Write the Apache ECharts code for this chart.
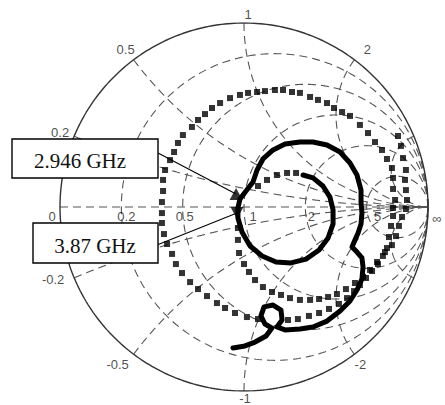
<!DOCTYPE html>
<html>
<head>
<meta charset="utf-8">
<script src="https://cdn.jsdelivr.net/npm/echarts@6/dist/echarts.min.js"></script>
<style>
  html, body { margin: 0; padding: 0; background: #fff; }
  #chart { width: 445px; height: 405px; }
</style>
</head>
<body>
<div id="chart"></div>
<script>
// Smith chart grid values (normalised impedance)
const resistanceCircles = [0.2, 0.5, 1, 2, 5];
const reactanceArcs = [0.2, 0.5, 1, 2, 5, -0.2, -0.5, -1, -2, -5];

// Tick labels: resistance along the real axis, reactance around the rim
const resistanceTicks = [0, 0.2, 0.5, 1, 2, 5];
const reactanceTicks = [1, 0.5, 2, 0.2, -0.2, -0.5, -2, -1];

// Measured reflection coefficient traces, [Re(Γ), Im(Γ)]
const thickTrace = [
  [-0.060, -0.766], [0.005, -0.755], [0.060, -0.734], [0.120, -0.701], [0.152, -0.658],
  [0.114, -0.636], [0.092, -0.592], [0.109, -0.543], [0.158, -0.533], [0.201, -0.560],
  [0.207, -0.614], [0.179, -0.652], [0.223, -0.668], [0.304, -0.663], [0.375, -0.652],
  [0.451, -0.620], [0.522, -0.565], [0.576, -0.511], [0.614, -0.451], [0.641, -0.391],
  [0.647, -0.326], [0.641, -0.277], [0.614, -0.245], [0.587, -0.217], [0.603, -0.179],
  [0.620, -0.141], [0.636, -0.092], [0.641, -0.033], [0.636, 0.027], [0.636, 0.092],
  [0.614, 0.174], [0.576, 0.239], [0.522, 0.299], [0.451, 0.337], [0.375, 0.353],
  [0.304, 0.353], [0.223, 0.342], [0.158, 0.310], [0.103, 0.261], [0.071, 0.201],
  [0.049, 0.136], [0.011, 0.087], [-0.022, 0.043], [-0.033, -0.005], [-0.033, -0.060],
  [-0.011, -0.136], [0.033, -0.212], [0.098, -0.266], [0.174, -0.299], [0.255, -0.304],
  [0.337, -0.283], [0.408, -0.234], [0.457, -0.168], [0.484, -0.092], [0.484, -0.016],
  [0.467, 0.054], [0.429, 0.114], [0.375, 0.158], [0.321, 0.174]
];
const thickTraceEnd = [
  [0.283, 0.185], [0.234, 0.185], [0.179, 0.174], [0.125, 0.147], [0.076, 0.114]
];
const outerLoop = [
  [0.076, -0.609], [0.016, -0.598], [-0.049, -0.576], [-0.103, -0.549], [-0.147, -0.522],
  [-0.201, -0.484], [-0.250, -0.446], [-0.293, -0.408], [-0.337, -0.359], [-0.370, -0.310],
  [-0.391, -0.255], [-0.418, -0.201], [-0.435, -0.147], [-0.446, -0.087], [-0.446, -0.033],
  [-0.446, 0.027], [-0.440, 0.087], [-0.440, 0.147], [-0.429, 0.201], [-0.402, 0.255],
  [-0.380, 0.299], [-0.359, 0.348], [-0.332, 0.391], [-0.283, 0.435], [-0.250, 0.473],
  [-0.212, 0.505], [-0.174, 0.538], [-0.130, 0.565], [-0.076, 0.592], [-0.022, 0.609],
  [0.022, 0.620], [0.071, 0.625], [0.114, 0.630], [0.168, 0.636], [0.212, 0.636],
  [0.261, 0.625], [0.304, 0.620], [0.359, 0.598], [0.402, 0.582], [0.451, 0.565],
  [0.489, 0.538], [0.533, 0.516], [0.576, 0.495], [0.630, 0.446], [0.674, 0.402],
  [0.712, 0.353], [0.750, 0.310], [0.777, 0.261], [0.804, 0.212], [0.810, 0.158],
  [0.810, 0.098], [0.821, 0.038], [0.810, -0.005], [0.810, -0.049], [0.799, -0.103],
  [0.788, -0.163], [0.777, -0.223], [0.755, -0.266], [0.728, -0.310], [0.696, -0.348],
  [0.663, -0.386], [0.630, -0.424], [0.598, -0.457], [0.560, -0.495], [0.516, -0.527],
  [0.462, -0.554], [0.408, -0.576], [0.353, -0.592], [0.293, -0.609], [0.239, -0.614]
];
const innerPath = [
  [-0.033, -0.114], [-0.033, -0.179], [-0.027, -0.250], [0.000, -0.310], [0.027, -0.353],
  [0.060, -0.397], [0.103, -0.435], [0.152, -0.462], [0.201, -0.478], [0.250, -0.495],
  [0.304, -0.505], [0.359, -0.505], [0.408, -0.500], [0.457, -0.489], [0.505, -0.473],
  [0.554, -0.446], [0.603, -0.413], [0.647, -0.380], [0.685, -0.342], [0.723, -0.299],
  [0.766, -0.245], [0.804, -0.207], [0.826, -0.158], [0.842, -0.103], [0.859, -0.054],
  [0.880, -0.011], [0.886, 0.038], [0.880, 0.092], [0.875, 0.147], [0.880, 0.201],
  [0.864, 0.266], [0.853, 0.332], [0.837, 0.386]
];

// Frequency markers
const markerNames = ['2.946 GHz', '3.87 GHz'];
const markerPoints = [[-0.043, 0.071], [-0.038, -0.033]];
const markerSymbols = ['triangle', 'triangle'];
const markerRotations = [0, 180];

// ---- layout / style (pixel offsets for text, box placement) ----
const resistanceLabelOffset = { '0': [-8, 9], '0.2': [5, 9], '0.5': [2, 9], '1': [9, 9], '2': [6, 9], '5': [11, 9] };
const reactanceLabelOffset = { '1': [4, -9], '0.5': [-8, -10], '2': [13, -10], '0.2': [-14, -4],
  '-0.2': [-21, 2], '-0.5': [-16, 10], '-2': [6, 10], '-1': [1, 7] };
const calloutBoxes = [
  { x: 12, y: 139, w: 146, h: 39, textX: 80, textY: 161, lineFrom: [158, 153] },
  { x: 33, y: 223, w: 125, h: 40, textX: 95, textY: 246, lineFrom: [157, 245] }
];

// Γ for a normalised impedance r + jx
function gamma(r, x) {
  const d = (r + 1) * (r + 1) + x * x;
  return [(r * r - 1 + x * x) / d, (2 * x) / d];
}
function resistanceCircle(r) {
  const c = r / (1 + r), R = 1 / (1 + r), pts = [];
  for (let k = 0; k <= 360; k++) {
    const a = (k * Math.PI) / 180;
    pts.push([c + R * Math.cos(a), R * Math.sin(a)]);
  }
  return pts;
}
function reactanceArc(x) {
  const pts = [];
  for (let i = 0; i < 400; i++) {
    const r = Math.tan((i / 400) * Math.PI / 2);
    pts.push(gamma(r, x));
  }
  pts.push([1, 0]);
  return pts;
}

const dashed = { color: '#555', width: 1.1, type: [8, 5] };
const series = [];

resistanceCircles.forEach(r => series.push({
  type: 'line', data: resistanceCircle(r), showSymbol: false, silent: true,
  lineStyle: dashed, z: 1
}));
reactanceArcs.forEach(x => series.push({
  type: 'line', data: reactanceArc(x), showSymbol: false, silent: true,
  lineStyle: dashed, z: 1
}));
// real axis
series.push({
  type: 'line', data: [[-1, 0], [1, 0]], showSymbol: false, silent: true,
  lineStyle: dashed, z: 1
});
// outer rim (r = 0)
series.push({
  type: 'line', data: resistanceCircle(0), showSymbol: false, silent: true,
  lineStyle: { color: '#333', width: 1.4 }, z: 2
});

// traces
series.push({
  type: 'line', data: thickTrace, showSymbol: false, silent: true,
  lineStyle: { color: '#000', width: 5, join: 'round', cap: 'round' }, z: 5
});
[thickTraceEnd, outerLoop, innerPath].forEach(d => series.push({
  type: 'scatter', data: d, symbol: 'rect', symbolSize: 6, silent: true,
  itemStyle: { color: '#000' }, z: 5
}));

// frequency markers
series.push({
  type: 'scatter', silent: true, z: 6,
  data: markerPoints.map((p, i) => ({
    value: p, name: markerNames[i], symbol: markerSymbols[i],
    symbolRotate: markerRotations[i]
  })),
  symbolSize: [13, 12], itemStyle: { color: '#000' }
});

// tick labels
const tickFont = { fontFamily: 'Liberation Sans, Arial, sans-serif', fontSize: 13, color: '#1a1a1a' };
series.push({
  type: 'scatter', symbolSize: 0, silent: true, z: 7,
  data: resistanceTicks.map(r => ({
    value: gamma(r, 0), name: String(r),
    label: { show: true, position: 'inside', formatter: String(r),
      offset: resistanceLabelOffset[String(r)], ...tickFont }
  })).concat([{
    value: [1, 0], name: 'inf',
    label: { show: true, position: 'inside', formatter: '∞', offset: [9, 11], ...tickFont }
  }])
});
series.push({
  type: 'scatter', symbolSize: 0, silent: true, z: 7,
  data: reactanceTicks.map(x => ({
    value: gamma(0, x), name: String(x),
    label: { show: true, position: 'inside', formatter: String(x),
      offset: reactanceLabelOffset[String(x)], ...tickFont }
  }))
});

const chart = echarts.init(document.getElementById('chart'), null, { renderer: 'svg' });
chart.setOption({
  animation: false,
  backgroundColor: '#fff',
  grid: { left: 60, top: 23, width: 368, height: 368 },
  xAxis: { type: 'value', min: -1, max: 1, show: false },
  yAxis: { type: 'value', min: -1, max: 1, show: false },
  series: series
});

// callout boxes with leader lines to the frequency markers
const graphics = [];
calloutBoxes.forEach((b, i) => {
  const target = chart.convertToPixel({ xAxisIndex: 0, yAxisIndex: 0 }, markerPoints[i]);
  graphics.push({
    type: 'line', z: 20, silent: true,
    shape: { x1: b.lineFrom[0], y1: b.lineFrom[1], x2: target[0], y2: target[1] },
    style: { stroke: '#000', lineWidth: 1.1 }
  });
  graphics.push({
    type: 'rect', z: 21, silent: true,
    shape: { x: b.x, y: b.y, width: b.w, height: b.h },
    style: { fill: '#fff', stroke: '#000', lineWidth: 1.4 }
  });
  graphics.push({
    type: 'text', z: 22, silent: true, x: b.textX, y: b.textY,
    style: { text: markerNames[i], fill: '#111', align: 'center', verticalAlign: 'middle',
      font: '21px "Liberation Serif", "Times New Roman", serif' }
  });
});
chart.setOption({ graphic: graphics });
</script>
</body>
</html>
